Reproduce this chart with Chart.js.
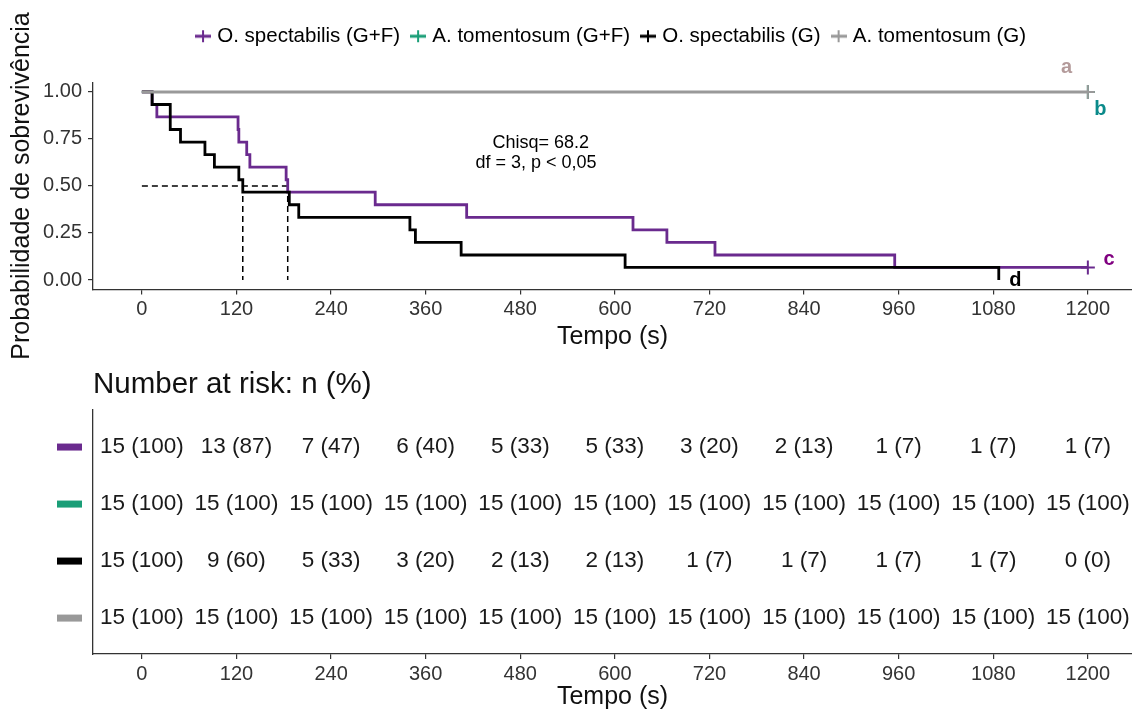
<!DOCTYPE html>
<html>
<head>
<meta charset="utf-8">
<script src="https://cdn.jsdelivr.net/npm/chart.js@4.4.1/dist/chart.umd.min.js"></script>
<style>
  html, body { margin: 0; padding: 0; background: #fff; overflow: hidden; }
  #wrap { position: relative; width: 1132px; height: 715px; }
  #survBox { position: absolute; left: 0; top: 0; width: 1132px; height: 360px; }
  #riskBox { position: absolute; left: 0; top: 360px; width: 1132px; height: 355px; }
</style>
</head>
<body>
<div id="wrap">
  <div id="survBox"><canvas id="survChart"></canvas></div>
  <div id="riskBox"><canvas id="riskChart"></canvas></div>
</div>
<script>
// groups, in legend order
const groups = ['O. spectabilis (G+F)', 'A. tomentosum (G+F)', 'O. spectabilis (G)', 'A. tomentosum (G)'];
const groupColors = ['#6a2a8e', '#1a9e77', '#000000', '#999999'];

// Kaplan-Meier steps: time (s) and survival after the event
const spectGF_t = [0, 13, 19, 122, 123, 133, 137, 183, 185, 296, 412, 623, 666, 727, 955, 1200];
const spectGF_s = [1, 0.933, 0.867, 0.8, 0.733, 0.667, 0.6, 0.533, 0.467, 0.4, 0.333, 0.267, 0.2, 0.133, 0.067, 0.067];
const tomentGF_t = [0, 1200];
const tomentGF_s = [1, 1];
const spectG_t = [0, 13, 36, 49, 80, 92, 123, 128, 187, 199, 340, 347, 405, 613, 1087];
const spectG_s = [1, 0.933, 0.8, 0.733, 0.667, 0.6, 0.533, 0.467, 0.4, 0.333, 0.267, 0.2, 0.133, 0.067, 0];
const tomentG_t = [0, 1200];
const tomentG_s = [1, 1];

// median survival times (black, purple)
const medianTimes = [128, 185];

const timeTicks = [0, 120, 240, 360, 480, 600, 720, 840, 960, 1080, 1200];
const survTicks = [0, 0.25, 0.5, 0.75, 1];

// number at risk at each time tick
const riskSpectGF_n = [15, 13, 7, 6, 5, 5, 3, 2, 1, 1, 1];
const riskSpectGF_p = [100, 87, 47, 40, 33, 33, 20, 13, 7, 7, 7];
const riskTomentGF_n = [15, 15, 15, 15, 15, 15, 15, 15, 15, 15, 15];
const riskTomentGF_p = [100, 100, 100, 100, 100, 100, 100, 100, 100, 100, 100];
const riskSpectG_n = [15, 9, 5, 3, 2, 2, 1, 1, 1, 1, 0];
const riskSpectG_p = [100, 60, 33, 20, 13, 13, 7, 7, 7, 7, 0];
const riskTomentG_n = [15, 15, 15, 15, 15, 15, 15, 15, 15, 15, 15];
const riskTomentG_p = [100, 100, 100, 100, 100, 100, 100, 100, 100, 100, 100];

const fontFam = "'Liberation Sans', Arial, Helvetica, sans-serif";
Chart.defaults.font.family = fontFam;
Chart.defaults.color = '#2b2b2b';
Chart.defaults.animation = false;

const axisColor = '#333333';

function toPoints(ts, ss) {
  return ts.map((t, i) => ({ x: t, y: ss[i] }));
}

// censor mark only at the last point
function lastCross(size) {
  return ctx => (ctx.dataIndex === ctx.dataset.data.length - 1 ? size : 0);
}

function legendIcon(color) {
  const c = document.createElement('canvas');
  c.width = 16; c.height = 14;
  const g = c.getContext('2d');
  g.strokeStyle = color;
  g.lineWidth = 3;
  g.beginPath(); g.moveTo(0, 7); g.lineTo(16, 7); g.stroke();
  g.lineWidth = 2;
  g.beginPath(); g.moveTo(8, 1); g.lineTo(8, 13); g.stroke();
  return c;
}

// text annotations placed in data coordinates
const notePlugin = {
  id: 'notes',
  afterDatasetsDraw(chart, args, opts) {
    const { ctx, scales: { x, y } } = chart;
    ctx.save();
    ctx.textAlign = 'center';
    ctx.textBaseline = 'middle';
    (opts.items || []).forEach(n => {
      ctx.font = (n.bold ? 'bold ' : '') + n.size + 'px ' + fontFam;
      ctx.fillStyle = n.color;
      ctx.fillText(n.text, x.getPixelForValue(n.x), y.getPixelForValue(n.y));
    });
    ctx.restore();
  }
};

// y-axis title drawn unsquashed (longer than the plot height)
const yTitlePlugin = {
  id: 'yTitle',
  afterDraw(chart, args, opts) {
    if (!opts.text) return;
    const { ctx, chartArea } = chart;
    ctx.save();
    ctx.translate(opts.x, (chartArea.top + chartArea.bottom) / 2);
    ctx.rotate(-Math.PI / 2);
    ctx.font = opts.size + 'px ' + fontFam;
    ctx.fillStyle = opts.color;
    ctx.textAlign = 'center';
    ctx.textBaseline = 'middle';
    ctx.fillText(opts.text, 0, 0);
    ctx.restore();
  }
};

function survDataset(i, ts, ss, order, censor, width) {
  return {
    label: groups[i],
    data: toPoints(ts, ss),
    borderColor: groupColors[i],
    backgroundColor: groupColors[i],
    borderWidth: width,
    stepped: 'before',
    borderJoinStyle: 'miter',
    pointStyle: 'cross',
    pointRadius: censor ? lastCross(7) : 0,
    pointBorderWidth: 2,
    pointBorderColor: groupColors[i],
    order: order
  };
}

function dashed(points) {
  return {
    label: 'median',
    data: points,
    borderColor: '#000',
    borderWidth: 1.5,
    borderDash: [6, 4],
    pointRadius: 0,
    order: 6
  };
}

const survDatasets = [
  survDataset(0, spectGF_t, spectGF_s, 4, true, 2.8),
  survDataset(1, tomentGF_t, tomentGF_s, 3, true, 1.6),
  survDataset(2, spectG_t, spectG_s, 2, false, 2.8),
  survDataset(3, tomentG_t, tomentG_s, 1, true, 3),
  dashed([{ x: 0, y: 0.5 }, { x: medianTimes[1], y: 0.5 }]),
  dashed([{ x: medianTimes[0], y: 0.5 }, { x: medianTimes[0], y: 0 }]),
  dashed([{ x: medianTimes[1], y: 0.5 }, { x: medianTimes[1], y: 0 }])
];

const legendIcons = groupColors.map(legendIcon);

function xAxis(height, titlePadBottom) {
  return {
    type: 'linear',
    min: -62,
    max: 1256,
    afterBuildTicks: s => { s.ticks = timeTicks.map(v => ({ value: v })); },
    afterFit: s => { s.height = height; s.paddingLeft = 0; s.paddingRight = 0; },
    grid: { display: true, drawOnChartArea: false, drawTicks: true, tickLength: 5, color: axisColor, lineWidth: 1.2 },
    border: { display: true, color: axisColor, width: 1.3 },
    ticks: { font: { size: 20 }, color: '#333', padding: 3, maxRotation: 0, autoSkip: false, callback: v => String(v) },
    title: { display: true, text: 'Tempo (s)', font: { size: 25 }, color: '#111', padding: { top: 0, bottom: titlePadBottom } }
  };
}

new Chart(document.getElementById('survChart'), {
  type: 'line',
  data: { datasets: survDatasets },
  plugins: [notePlugin, yTitlePlugin],
  options: {
    responsive: true,
    maintainAspectRatio: false,
    devicePixelRatio: 1,
    events: [],
    layout: { autoPadding: false, padding: { top: 12, left: 0, right: 0, bottom: 0 } },
    scales: {
      x: xAxis(70.6, 8),
      y: {
        type: 'linear',
        min: -0.05,
        max: 1.05,
        afterBuildTicks: s => { s.ticks = survTicks.map(v => ({ value: v })); },
        afterFit: s => { s.width = 93; s.paddingTop = 0; s.paddingBottom = 0; },
        grid: { display: true, drawOnChartArea: false, drawTicks: true, tickLength: 5, color: axisColor, lineWidth: 1.2 },
        border: { display: true, color: axisColor, width: 1.3 },
        ticks: { font: { size: 20 }, color: '#333', padding: 6, callback: v => v.toFixed(2) }
      }
    },
    plugins: {
      legend: {
        display: true,
        position: 'top',
        fullSize: false,
        align: 'center',
        labels: {
          usePointStyle: true,
          boxWidth: 8,
          padding: 14,
          color: '#111',
          font: { size: 20.5 },
          generateLabels: () => groups.map((g, i) => ({
            text: g,
            pointStyle: legendIcons[i],
            fillStyle: groupColors[i],
            strokeStyle: groupColors[i],
            lineWidth: 0,
            hidden: false,
            datasetIndex: i
          }))
        }
      },
      // spacer between legend and plot panel
      subtitle: { display: true, text: ' ', position: 'top', weight: 500, font: { size: 10 }, padding: { top: 0, bottom: 14 } },
      title: { display: false },
      tooltip: { enabled: false },
      yTitle: { text: 'Probabilidade de sobrevivência', x: 22, size: 25, color: '#111' },
      notes: {
        items: [
          { x: 506, y: 0.73, text: 'Chisq= 68.2', size: 18, color: '#000' },
          { x: 500, y: 0.622, text: 'df = 3, p < 0,05', size: 18, color: '#000' },
          { x: 1173, y: 1.128, text: 'a', size: 20, bold: true, color: '#b39a9a' },
          { x: 1216, y: 0.906, text: 'b', size: 20, bold: true, color: '#0b8a8a' },
          { x: 1227, y: 0.11, text: 'c', size: 20, bold: true, color: '#800080' },
          { x: 1108, y: 0.0, text: 'd', size: 20, bold: true, color: '#000' }
        ]
      }
    }
  }
});

// ---- risk table ----
const riskRows = [4, 3, 2, 1];
const riskN = [riskSpectGF_n, riskTomentGF_n, riskSpectG_n, riskTomentG_n];
const riskP = [riskSpectGF_p, riskTomentGF_p, riskSpectG_p, riskTomentG_p];

const riskDatasets = groups.map((g, i) => ({
  label: g,
  data: timeTicks.map(t => ({ x: t, y: riskRows[i] })),
  riskText: riskN[i].map((n, j) => n + ' (' + riskP[i][j] + ')'),
  pointRadius: 0,
  showLine: false,
  color: groupColors[i]
}));

const riskTextPlugin = {
  id: 'riskText',
  afterDatasetsDraw(chart) {
    const { ctx, chartArea } = chart;
    ctx.save();
    ctx.textAlign = 'center';
    ctx.textBaseline = 'middle';
    ctx.font = '22.5px ' + fontFam;
    chart.data.datasets.forEach((ds, i) => {
      const meta = chart.getDatasetMeta(i);
      ctx.fillStyle = '#1a1a1a';
      meta.data.forEach((el, j) => {
        ctx.fillText(ds.riskText[j], el.x, el.y);
      });
      // coloured key bar left of the axis
      const yc = meta.data[0].y;
      ctx.fillStyle = ds.color;
      ctx.fillRect(chartArea.left - 36, yc - 3.5, 25, 7);
    });
    ctx.restore();
  }
};

new Chart(document.getElementById('riskChart'), {
  type: 'scatter',
  data: { datasets: riskDatasets },
  plugins: [riskTextPlugin],
  options: {
    responsive: true,
    maintainAspectRatio: false,
    devicePixelRatio: 1,
    events: [],
    layout: { autoPadding: false, padding: 0 },
    scales: {
      x: xAxis(61, 3),
      y: {
        type: 'linear',
        min: 0.37,
        max: 4.65,
        afterFit: s => { s.width = 93; s.paddingTop = 0; s.paddingBottom = 0; },
        grid: { display: false },
        border: { display: true, color: axisColor, width: 1.3 },
        ticks: { display: false }
      }
    },
    plugins: {
      legend: { display: false },
      tooltip: { enabled: false },
      title: {
        display: true,
        text: 'Number at risk: n (%)',
        align: 'start',
        fullSize: false,
        color: '#111',
        font: { size: 29.5, weight: 'normal' },
        padding: { top: 7.3, bottom: 7.3 }
      }
    }
  }
});
</script>
</body>
</html>
